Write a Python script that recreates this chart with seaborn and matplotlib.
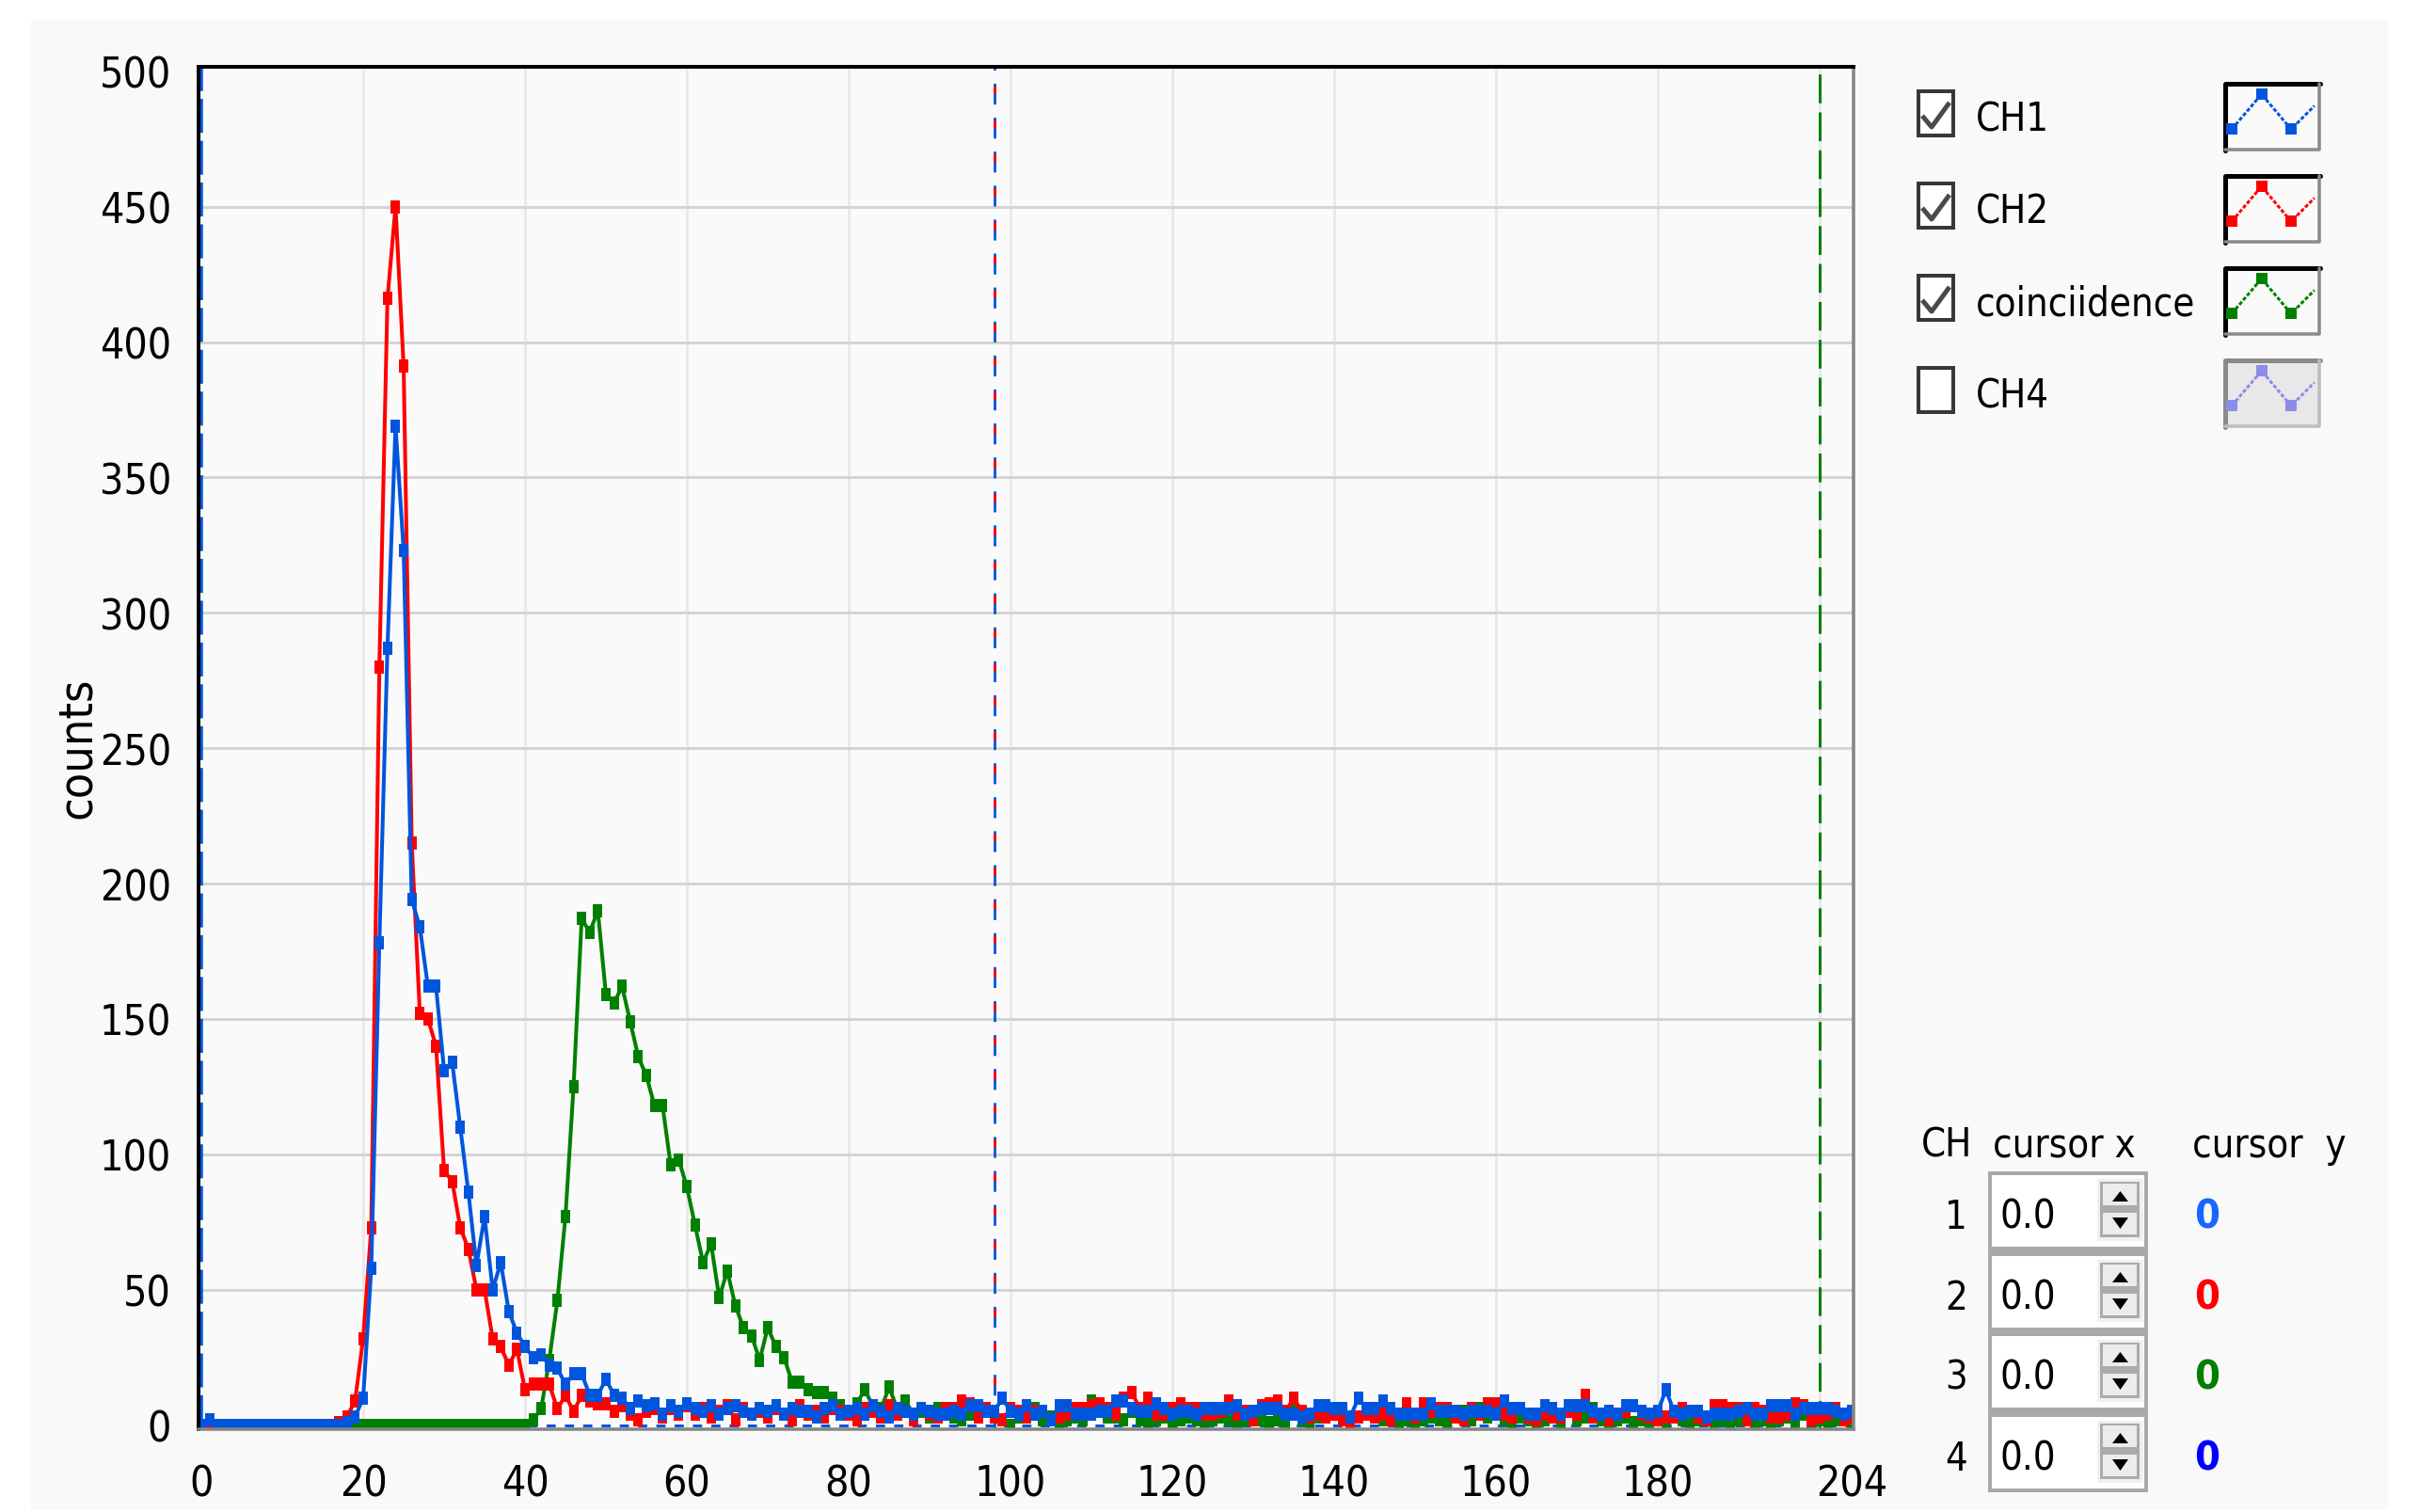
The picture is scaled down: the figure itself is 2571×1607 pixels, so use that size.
import matplotlib
matplotlib.use("Agg")
import matplotlib.pyplot as plt
import seaborn as sns
import pandas as pd
from matplotlib.patches import Rectangle, Polygon
from matplotlib.lines import Line2D

# ---------------- data ----------------
channels = list(range(205))

ch1 = [0, 2, 0, 0, 0, 0, 0, 0, 0, 0,
       0, 0, 0, 0, 0, 0, 0, 0, 1, 3,
       10, 58, 178, 287, 369, 323, 194, 184, 162, 162,
       131, 134, 110, 86, 59, 77, 50, 60, 42, 34,
       29, 25, 26, 22, 21, 15, 19, 19, 11, 11,
       17, 11, 10, 6, 9, 7, 8, 4, 7, 5,
       8, 6, 5, 7, 4, 6, 7, 5, 4, 6,
       5, 7, 4, 6, 5, 5, 3, 6, 7, 4,
       5, 6, 4, 7, 5, 3, 6, 5, 4, 6,
       5, 4, 4, 5, 4, 7, 7, 5, 5, 10,
       5, 4, 7, 4, 5, 2, 7, 7, 4, 4,
       4, 5, 5, 9, 9, 6, 5, 5, 8, 6,
       4, 5, 5, 4, 6, 6, 6, 6, 7, 4,
       5, 6, 6, 6, 4, 4, 3, 4, 7, 7,
       6, 6, 3, 10, 6, 6, 9, 6, 4, 4,
       4, 4, 8, 5, 5, 5, 4, 5, 5, 5,
       4, 9, 6, 6, 4, 4, 7, 6, 4, 7,
       7, 7, 5, 4, 5, 4, 7, 7, 5, 4,
       5, 13, 5, 4, 5, 5, 3, 4, 4, 4,
       5, 6, 4, 4, 7, 7, 7, 4, 6, 6,
       6, 6, 5, 4, 5]

ch2 = [0, 0, 0, 0, 0, 0, 0, 0, 0, 0,
       0, 0, 0, 0, 0, 0, 0, 1, 3, 9,
       32, 73, 280, 416, 450, 391, 215, 152, 150, 140,
       94, 90, 73, 65, 50, 50, 32, 29, 22, 28,
       13, 15, 15, 15, 6, 11, 5, 11, 9, 8,
       8, 5, 7, 4, 2, 5, 6, 3, 6, 4,
       7, 4, 6, 3, 5, 7, 2, 6, 4, 5,
       3, 6, 4, 2, 7, 4, 5, 3, 6, 5,
       4, 2, 6, 5, 3, 7, 4, 5, 2, 6,
       4, 3, 6, 6, 9, 8, 3, 6, 3, 2,
       6, 5, 3, 5, 5, 2, 3, 4, 6, 6,
       7, 8, 6, 4, 10, 12, 6, 10, 4, 4,
       6, 8, 6, 6, 4, 4, 5, 9, 4, 5,
       2, 7, 8, 9, 5, 10, 5, 3, 4, 3,
       4, 2, 1, 3, 4, 3, 4, 2, 4, 8,
       3, 8, 5, 6, 6, 3, 2, 6, 4, 8,
       8, 4, 3, 6, 3, 2, 4, 3, 3, 5,
       4, 11, 3, 4, 2, 4, 5, 7, 4, 3,
       2, 3, 3, 6, 5, 3, 2, 7, 7, 6,
       6, 2, 6, 5, 3, 3, 4, 8, 7, 2,
       3, 4, 6, 2, 3]

coincidence = [0, 0, 0, 0, 0, 0, 0, 0, 0, 0,
               0, 0, 0, 0, 0, 0, 0, 0, 0, 0,
               0, 0, 0, 0, 0, 0, 0, 0, 0, 0,
               0, 0, 0, 0, 0, 0, 0, 0, 0, 0,
               0, 2, 6, 24, 46, 77, 125, 187, 182, 190,
               159, 156, 162, 149, 136, 129, 118, 118, 96, 98,
               88, 74, 60, 67, 47, 57, 44, 36, 33, 24,
               36, 29, 25, 16, 16, 13, 12, 12, 10, 7,
               4, 8, 13, 7, 6, 14, 6, 9, 4, 5,
               3, 6, 5, 3, 2, 4, 3, 6, 5, 2,
               0, 3, 7, 6, 2, 3, 1, 2, 3, 2,
               9, 8, 3, 3, 2, 5, 2, 1, 2, 3,
               1, 2, 3, 2, 1, 2, 3, 2, 1, 2,
               3, 2, 1, 2, 0, 7, 2, 1, 3, 6,
               6, 2, 1, 3, 6, 6, 2, 2, 1, 2,
               1, 2, 3, 2, 1, 3, 5, 2, 6, 3,
               7, 2, 1, 3, 2, 1, 2, 3, 1, 7,
               2, 3, 6, 2, 1, 2, 3, 1, 2, 0,
               2, 1, 3, 2, 1, 2, 3, 1, 2, 1,
               2, 3, 1, 2, 1, 2, 3, 1, 4, 1,
               2, 1, 2, 3, 1]

series_names = ["CH1", "CH2", "coinciidence", "CH4"]
series_colors = ["#0055dd", "#ff0000", "#008000", "#8c8cea"]
series_checked = [True, True, True, False]

x_ticks = [0, 20, 40, 60, 80, 100, 120, 140, 160, 180, 200, 204]
x_tick_labels = ["0", "20", "40", "60", "80", "100", "120", "140", "160", "180", "", "204"]
y_ticks = [0, 50, 100, 150, 200, 250, 300, 350, 400, 450, 500]
y_label = "counts"

cursor_lines_x = [0, 98, 200]
cursor_rows = ["1", "2", "3", "4"]
cursor_x_vals = ["0.0", "0.0", "0.0", "0.0"]
cursor_y_vals = ["0", "0", "0", "0"]
cursor_y_colors = ["#1a66ff", "#ff0000", "#008000", "#0000ff"]

# ---------------- style ----------------
sns.set_theme(style="white")
plt.rcParams["font.family"] = ["DejaVu Sans"]
plt.rcParams["font.stretch"] = "condensed"
plt.rcParams["lines.scale_dashes"] = False

W, H = 2571, 1608
PT = 0.72  # points per pixel at dpi 100
FS = 30


def fx(x):
    return x / W


def fy(y):
    return 1 - y / H


fig = plt.figure(figsize=(W / 100, H / 100), dpi=100, facecolor="white")

# background panel (behind the axes)
fig.patches.append(Rectangle((fx(33), fy(1606)), (2538 - 33) / W, (1606 - 22) / H,
                             transform=fig.transFigure, facecolor="#f9f9f9",
                             edgecolor="none", zorder=-5))

# ---------------- axes ----------------
ax_l, ax_r, ax_t, ax_b = 211, 1970, 72, 1520
ax = fig.add_axes([fx(ax_l), fy(ax_b), (ax_r - ax_l) / W, (ax_b - ax_t) / H])
ax.set_zorder(1)
ax.set_facecolor("#fafafa")

for gy in y_ticks[1:-1]:
    ax.axhline(gy, color="#d4d4d4", lw=3 * PT, zorder=0.5)
for gx in range(20, 201, 20):
    ax.axvline(gx, color="#e9e9e9", lw=3 * PT, zorder=0.4)

# cursors
ax.axhline(0, color=series_colors[0], lw=3 * PT, linestyle=(0, (7, 7)), zorder=1)
ax.axvline(cursor_lines_x[0], color=series_colors[0], lw=3.5 * PT,
           linestyle=(0, (26, 6)), zorder=6)
ax.axvline(cursor_lines_x[1], color=series_colors[0], lw=2.8 * PT,
           linestyle=(0, (16, 10)), zorder=1.2)
ax.axvline(cursor_lines_x[1], color=series_colors[1], lw=2.8 * PT,
           linestyle=(18, (6, 20)), zorder=1.2)
ax.axvline(cursor_lines_x[2], color=series_colors[2], lw=3 * PT,
           linestyle=(0, (22, 7)), zorder=1.2)

# data
rect_marker = [(-0.38, -0.5), (0.38, -0.5), (0.38, 0.5), (-0.38, 0.5), (-0.38, -0.5)]
df = pd.DataFrame({"channel": channels, "CH1": ch1, "CH2": ch2, "coinc": coincidence})
for col, color, z in [("coinc", series_colors[2], 3),
                      ("CH2", series_colors[1], 4),
                      ("CH1", series_colors[0], 5)]:
    sns.lineplot(data=df, x="channel", y=col, ax=ax, color=color, lw=2.9,
                 marker=rect_marker, markersize=9.6, markeredgewidth=0,
                 errorbar=None, zorder=z)

ax.set_xlim(-0.35, 204.19)
ax.set_ylim(-1.53, 501.65)
ax.set_xlabel("")
ax.set_ylabel("")

for s in ["left", "top"]:
    ax.spines[s].set_color("black")
    ax.spines[s].set_linewidth(4 * PT)
for s in ["right", "bottom"]:
    ax.spines[s].set_color("#858585")
    ax.spines[s].set_linewidth(3.5 * PT)
for s in ax.spines.values():
    s.set_zorder(7)

ax.set_xticks(x_ticks)
ax.set_xticklabels(x_tick_labels)
ax.set_yticks(y_ticks)
ax.set_yticklabels([str(v) for v in y_ticks])
ax.tick_params(axis="x", direction="out", length=27 * PT, width=3 * PT,
               color="black", pad=7, labelsize=FS + 2, labelcolor="black")
ax.tick_params(axis="y", direction="out", length=22 * PT, width=3 * PT,
               color="black", pad=5, labelsize=FS + 2, labelcolor="black")
ax.grid(False)

fig.text(fx(82), fy(795), y_label, rotation=90, ha="center", va="center",
         fontsize=36, color="black")

# ---------------- legend panel ----------------
for k, (name, color, checked) in enumerate(zip(series_names, series_colors, series_checked)):
    dy = 98 * k
    bx0, by0, bx1, by1 = 2039, 98 + dy, 2076, 145 + dy
    fig.patches.append(Rectangle((fx(bx0), fy(by1)), (bx1 - bx0) / W, (by1 - by0) / H,
                                 transform=fig.transFigure, facecolor="white",
                                 edgecolor="#383838", lw=4 * PT, zorder=3))
    if checked:
        cx = [2037 + 6, 2037 + 16, 2037 + 35]
        cy = [96 + dy + 28, 96 + dy + 40, 96 + dy + 14]
        fig.add_artist(Line2D([fx(v) for v in cx], [fy(v) for v in cy],
                              transform=fig.transFigure, color="#4a4a4a",
                              lw=5 * PT, solid_capstyle="butt", zorder=4))
    fig.text(fx(2100), fy(140 + dy), name, ha="left", va="baseline",
             fontsize=FS, color="black")
    sx0, sy0, sx1, sy1 = 2363, 88 + dy, 2466, 161 + dy
    face = "#fafafa" if checked else "#e8e8e8"
    fig.patches.append(Rectangle((fx(sx0), fy(sy1)), (sx1 - sx0) / W, (sy1 - sy0) / H,
                                 transform=fig.transFigure, facecolor=face,
                                 edgecolor="none", zorder=3))
    dark = "black" if checked else "#8a8a8a"
    light = "#8a8a8a" if checked else "#bdbdbd"
    fig.add_artist(Line2D([fx(sx0 + 2), fx(sx0 + 2), fx(sx1)], [fy(sy1), fy(sy0 + 2), fy(sy0 + 2)],
                          transform=fig.transFigure, color=dark, lw=5 * PT, zorder=4))
    fig.add_artist(Line2D([fx(sx0 + 2), fx(sx1 - 1.5), fx(sx1 - 1.5)], [fy(sy1 - 1.5), fy(sy1 - 1.5), fy(sy0 + 2)],
                          transform=fig.transFigure, color=light, lw=3.5 * PT, zorder=4))
    px_ = [sx0 + 0.087 * (sx1 - sx0), sx0 + 0.395 * (sx1 - sx0),
           sx0 + 0.70 * (sx1 - sx0), sx0 + 0.94 * (sx1 - sx0)]
    py_ = [sy1 - 0.31 * (sy1 - sy0), sy1 - 0.82 * (sy1 - sy0),
           sy1 - 0.31 * (sy1 - sy0), sy1 - 0.65 * (sy1 - sy0)]
    fig.add_artist(Line2D([fx(v) for v in px_], [fy(v) for v in py_],
                          transform=fig.transFigure, color=color, lw=3 * PT,
                          linestyle=(0, (3, 1.5)), zorder=5))
    fig.add_artist(Line2D([fx(v) for v in px_[:3]], [fy(v) for v in py_[:3]],
                          transform=fig.transFigure, color=color, lw=0,
                          marker="s", markersize=8.5, markeredgewidth=0, zorder=5))

# ---------------- cursor table ----------------
fig.text(fx(2042), fy(1230), "CH", ha="left", va="baseline", fontsize=FS, color="black")
fig.text(fx(2118), fy(1230), "cursor x", ha="left", va="baseline", fontsize=FS, color="black")
fig.text(fx(2330), fy(1230), "cursor  y", ha="left", va="baseline", fontsize=FS, color="black")

fig.patches.append(Rectangle((fx(2113), fy(1587)), (2283 - 2113) / W, (1587 - 1246) / H,
                             transform=fig.transFigure, facecolor="#a9a9ad",
                             edgecolor="none", zorder=2))
row_tops = [1250, 1336, 1421, 1507]
row_base = [1306, 1392, 1477, 1563]
for t, b, lab, xv, yv, yc in zip(row_tops, row_base, cursor_rows, cursor_x_vals,
                                 cursor_y_vals, cursor_y_colors):
    fig.patches.append(Rectangle((fx(2117), fy(t + 76)), (2279 - 2117) / W, 76 / H,
                                 transform=fig.transFigure, facecolor="white",
                                 edgecolor="none", zorder=3))
    fig.patches.append(Rectangle((fx(2229), fy(t + 70)), (2278 - 2229) / W, 66 / H,
                                 transform=fig.transFigure, facecolor="#f0f0f0",
                                 edgecolor="none", zorder=4))
    fig.patches.append(Rectangle((fx(2232), fy(t + 66)), (2274 - 2232) / W, 59 / H,
                                 transform=fig.transFigure, facecolor="#ababab",
                                 edgecolor="none", zorder=5))
    for (u0, u1) in [(t + 9, t + 32), (t + 40, t + 63)]:
        fig.patches.append(Rectangle((fx(2235), fy(u1)), (2271 - 2235) / W, (u1 - u0) / H,
                                     transform=fig.transFigure, facecolor="#ececec",
                                     edgecolor="none", zorder=6))
    fig.patches.append(Polygon([(fx(2245), fy(t + 28)), (fx(2262), fy(t + 28)), (fx(2253.5), fy(t + 17))],
                               closed=True, transform=fig.transFigure, facecolor="black",
                               edgecolor="none", zorder=7))
    fig.patches.append(Polygon([(fx(2245), fy(t + 45)), (fx(2262), fy(t + 45)), (fx(2253.5), fy(t + 57))],
                               closed=True, transform=fig.transFigure, facecolor="black",
                               edgecolor="none", zorder=7))
    fig.text(fx(2091), fy(b), lab, ha="right", va="baseline", fontsize=FS, color="black")
    fig.text(fx(2126), fy(b), xv, ha="left", va="baseline", fontsize=FS, color="black", zorder=8)
    fig.text(fx(2332), fy(b), yv, ha="left", va="baseline", fontsize=FS + 1, color=yc,
             fontweight="bold")

fig.savefig("out.png", dpi=100, facecolor="white")
